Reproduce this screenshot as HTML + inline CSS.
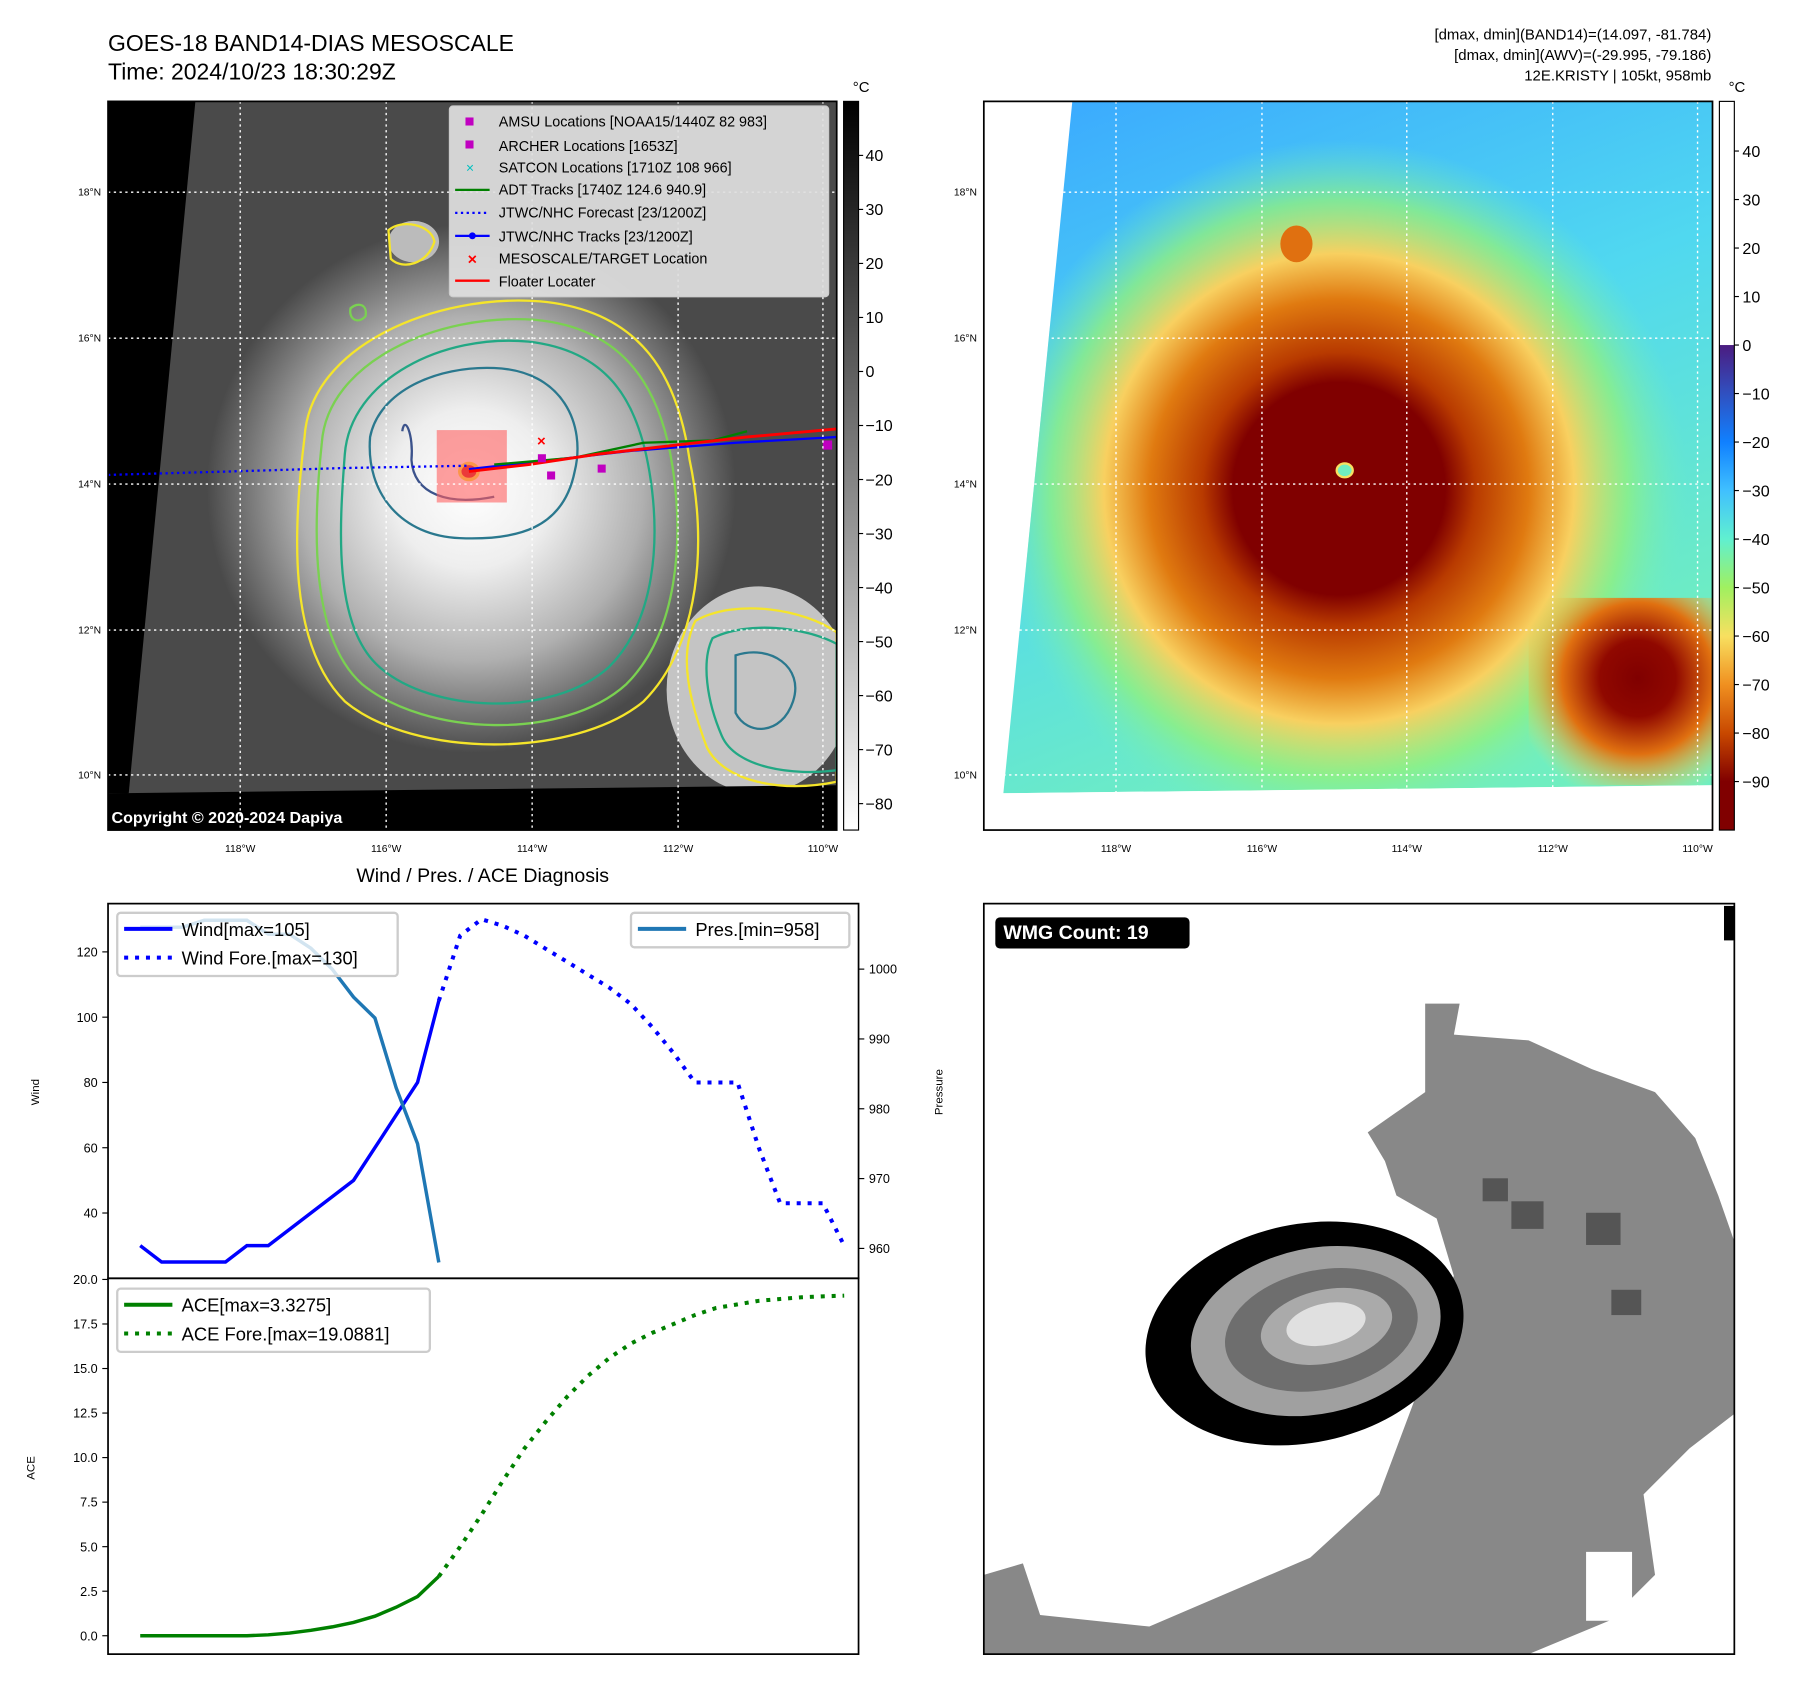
<!DOCTYPE html>
<html><head><meta charset="utf-8"><style>
html,body{margin:0;padding:0;background:#fff}
svg{display:block;font-family:"Liberation Sans","DejaVu Sans",sans-serif}
</style></head><body>
<svg id="fig" width="1801" height="1690" viewBox="0 0 1567 1470" xmlns="http://www.w3.org/2000/svg">
<defs>
<radialGradient id="cloudL" cx="410" cy="425" r="230" gradientUnits="userSpaceOnUse">
<stop offset="0" stop-color="#ffffff"/><stop offset="0.3" stop-color="#eeeeee"/><stop offset="0.65" stop-color="#b0b0b0"/><stop offset="1" stop-color="#4a4a4a"/></radialGradient>
<linearGradient id="bgR" x1="0" y1="0" x2="0.4" y2="1"><stop offset="0" stop-color="#3aa8ff"/><stop offset="0.5" stop-color="#50d8f0"/><stop offset="1" stop-color="#70eec0"/></linearGradient>
<radialGradient id="stormR" cx="1165" cy="425" r="330" gradientUnits="userSpaceOnUse">
<stop offset="0" stop-color="#800000"/><stop offset="0.28" stop-color="#800000"/><stop offset="0.36" stop-color="#b83a00"/><stop offset="0.5" stop-color="#e07a10"/><stop offset="0.62" stop-color="#f8d060"/><stop offset="0.76" stop-color="#90f080" stop-opacity="0.8"/><stop offset="0.92" stop-color="#70eec0" stop-opacity="0"/></radialGradient>
<radialGradient id="stormR2" cx="1425" cy="590" r="110" gradientUnits="userSpaceOnUse">
<stop offset="0" stop-color="#800000"/><stop offset="0.3" stop-color="#900800"/><stop offset="0.6" stop-color="#e07010"/><stop offset="1" stop-color="#f0e060" stop-opacity="0"/></radialGradient>
<linearGradient id="cbL" x1="0" y1="0" x2="0" y2="1"><stop offset="0" stop-color="#000"/><stop offset="1" stop-color="#fff"/></linearGradient>
<linearGradient id="cbR" x1="0" y1="0" x2="0" y2="1">
<stop offset="0" stop-color="#4b1c80"/><stop offset="0.1" stop-color="#3050c0"/><stop offset="0.2" stop-color="#1080ff"/><stop offset="0.3" stop-color="#40c0ff"/><stop offset="0.4" stop-color="#60f0d0"/><stop offset="0.5" stop-color="#a0f060"/><stop offset="0.6" stop-color="#f8e060"/><stop offset="0.7" stop-color="#f09020"/><stop offset="0.8" stop-color="#c84800"/><stop offset="0.9" stop-color="#800000"/><stop offset="1" stop-color="#800000"/></linearGradient>
<clipPath id="clipL"><rect x="94" y="88" width="634" height="634"/></clipPath>
<clipPath id="clipR"><rect x="856" y="88" width="634" height="634"/></clipPath>
<clipPath id="clipW"><rect x="856" y="786" width="653" height="653"/></clipPath>
</defs>

<text x="94" y="44" font-size="20">GOES-18 BAND14-DIAS MESOSCALE</text>
<text x="94" y="69" font-size="20">Time: 2024/10/23 18:30:29Z</text>
<g font-size="13" text-anchor="end">
<text x="1489" y="34">[dmax, dmin](BAND14)=(14.097, -81.784)</text>
<text x="1489" y="52">[dmax, dmin](AWV)=(-29.995, -79.186)</text>
<text x="1489" y="70">12E.KRISTY | 105kt, 958mb</text>
</g>

<g clip-path="url(#clipL)">
<rect x="94" y="88" width="634" height="634" fill="#3c3c3c"/>
<rect x="94" y="88" width="634" height="634" fill="url(#cloudL)"/>
<ellipse cx="660" cy="600" rx="80" ry="90" fill="#c4c4c4"/>
<ellipse cx="360" cy="210" rx="22" ry="18" fill="#bbb"/>
<polygon points="94,88 170,88 112,690 94,690" fill="#000"/>
<polygon points="94,690 728,683 728,722 94,722" fill="#000"/>
<g fill="none" stroke-width="2">
<path d="M265,380 C270,300 380,255 470,262 C560,270 590,330 600,400 C615,470 610,560 560,610 C500,660 360,660 300,610 C250,560 255,460 265,380Z" stroke="#f5e52a"/>
<path d="M280,385 C285,315 380,272 465,278 C545,285 575,340 585,405 C595,470 590,550 545,595 C490,645 370,640 315,595 C270,555 272,460 280,385Z" stroke="#7ad151"/>
<path d="M300,395 C305,330 385,290 460,297 C530,305 555,350 565,410 C575,470 570,540 530,580 C480,625 375,620 330,580 C290,545 295,460 300,395Z" stroke="#22a884"/>
<path d="M322,380 C330,340 380,318 430,320 C490,322 510,370 500,410 C490,460 450,470 400,468 C350,466 318,430 322,380Z" stroke="#2a788e"/>
<path d="M350,375 C352,360 360,378 358,400 C360,430 390,440 430,432" stroke="#3b528b"/>
<path d="M605,540 C640,520 700,530 728,550 L728,680 C680,690 630,680 615,650 C600,610 590,570 605,540Z" stroke="#f5e52a"/>
<path d="M620,555 C650,540 700,545 728,560 L728,670 C690,675 640,668 628,640 C615,610 610,575 620,555Z" stroke="#22a884"/>
<path d="M640,570 C670,560 700,580 690,610 C680,640 650,640 640,620Z" stroke="#2a788e"/>
<path d="M338,200 C350,190 375,195 378,210 C372,230 350,235 340,225Z" stroke="#f5e52a"/>
<path d="M305,268 C312,262 320,265 318,275 C312,282 303,278 305,268Z" stroke="#7ad151"/>
</g>
<ellipse cx="408" cy="410" rx="8" ry="7" fill="#c00" stroke="#f5e52a" stroke-width="3"/>
<rect x="380" y="374" width="61" height="63" fill="#ff6060" fill-opacity="0.6"/>
<polyline points="94,413 200,410 300,407 408,405" fill="none" stroke="#0000ff" stroke-width="2" stroke-dasharray="2,3"/>
<polyline points="408,408 480,400 550,392 640,385 728,380" fill="none" stroke="#0000ff" stroke-width="2"/>
<polyline points="430,404 500,398 560,385 620,383 650,375" fill="none" stroke="#008000" stroke-width="2"/>
<polyline points="408,410 460,404 520,395 580,388 650,380 728,373" fill="none" stroke="#ff0000" stroke-width="2.5"/>
<g fill="#c000c0"><rect x="468" y="395" width="7" height="7"/><rect x="476" y="410" width="7" height="7"/><rect x="520" y="404" width="7" height="7"/><rect x="716" y="383" width="8" height="8"/></g>
<text x="471" y="388" font-size="13" fill="#f00" text-anchor="middle" font-weight="bold">×</text>
<g stroke="#fff" stroke-width="1.2" stroke-dasharray="2,3">
<line x1="209" y1="88" x2="209" y2="722"/><line x1="336" y1="88" x2="336" y2="722"/><line x1="463" y1="88" x2="463" y2="722"/><line x1="590" y1="88" x2="590" y2="722"/><line x1="716" y1="88" x2="716" y2="722"/>
<line x1="94" y1="167" x2="728" y2="167"/><line x1="94" y1="294" x2="728" y2="294"/><line x1="94" y1="421" x2="728" y2="421"/><line x1="94" y1="548" x2="728" y2="548"/><line x1="94" y1="674" x2="728" y2="674"/>
</g>
<text x="97" y="716" font-size="14" fill="#fff" font-weight="bold">Copyright © 2020-2024 Dapiya</text>
</g>
<rect x="94" y="88" width="634" height="634" fill="none" stroke="#000" stroke-width="1.5"/>
<g font-size="12.5">
<rect x="391" y="92" width="330" height="166" rx="3" fill="#e0e0e0" fill-opacity="0.92" stroke="#ccc"/>
<rect x="405" y="102" width="7" height="7" fill="#c000c0"/><text x="434" y="110">AMSU Locations [NOAA15/1440Z 82 983]</text>
<rect x="405" y="122" width="7" height="7" fill="#c000c0"/><text x="434" y="131">ARCHER Locations [1653Z]</text>
<text x="409" y="150" fill="#00c0c0" text-anchor="middle" font-size="12">×</text><text x="434" y="150">SATCON Locations [1710Z 108 966]</text>
<line x1="396" y1="165" x2="426" y2="165" stroke="#008000" stroke-width="2"/><text x="434" y="169">ADT Tracks [1740Z 124.6 940.9]</text>
<line x1="396" y1="185" x2="426" y2="185" stroke="#0000ff" stroke-width="2" stroke-dasharray="2,3"/><text x="434" y="189">JTWC/NHC Forecast [23/1200Z]</text>
<line x1="396" y1="205" x2="426" y2="205" stroke="#0000ff" stroke-width="2"/><circle cx="411" cy="205" r="3" fill="#0000ff"/><text x="434" y="210">JTWC/NHC Tracks [23/1200Z]</text>
<text x="411" y="230" fill="#f00" text-anchor="middle" font-weight="bold" font-size="14">×</text><text x="434" y="229">MESOSCALE/TARGET Location</text>
<line x1="396" y1="244" x2="426" y2="244" stroke="#f00" stroke-width="2"/><text x="434" y="249">Floater Locater</text>
</g>
<g font-size="9">
<g text-anchor="middle"><text x="209" y="741">118°W</text><text x="336" y="741">116°W</text><text x="463" y="741">114°W</text><text x="590" y="741">112°W</text><text x="716" y="741">110°W</text></g>
<g text-anchor="end"><text x="88" y="170">18°N</text><text x="88" y="297">16°N</text><text x="88" y="424">14°N</text><text x="88" y="551">12°N</text><text x="88" y="677">10°N</text></g>
</g>
<g>
<rect x="734" y="88" width="13" height="634" fill="url(#cbL)" stroke="#000" stroke-width="1"/>
<text x="742" y="80" font-size="13">°C</text>
<g font-size="14" id="cbLticks"></g>
</g>

<g clip-path="url(#clipR)">
<rect x="856" y="88" width="634" height="634" fill="#fff"/>
<polygon points="933,88 1490,88 1490,683 873,690" fill="url(#bgR)"/>
<polygon points="933,88 1490,88 1490,683 873,690" fill="url(#stormR)"/>
<polygon points="1330,520 1490,520 1490,683 1330,683" fill="url(#stormR2)"/>
<ellipse cx="1128" cy="212" rx="14" ry="16" fill="#e07010"/>
<ellipse cx="1170" cy="409" rx="7" ry="6" fill="#70eec0" stroke="#f8e060" stroke-width="2"/>
<polygon points="873,690 1490,683 1490,722 856,722 856,690" fill="#fff"/>
<g stroke="#fff" stroke-width="1.2" stroke-dasharray="2,3">
<line x1="971" y1="88" x2="971" y2="690"/><line x1="1098" y1="88" x2="1098" y2="690"/><line x1="1224" y1="88" x2="1224" y2="690"/><line x1="1351" y1="88" x2="1351" y2="690"/><line x1="1477" y1="88" x2="1477" y2="690"/>
<line x1="920" y1="167" x2="1490" y2="167"/><line x1="910" y1="294" x2="1490" y2="294"/><line x1="895" y1="421" x2="1490" y2="421"/><line x1="882" y1="548" x2="1490" y2="548"/><line x1="873" y1="674" x2="1490" y2="674"/>
</g>
</g>
<rect x="856" y="88" width="634" height="634" fill="none" stroke="#000" stroke-width="1.5"/>
<g font-size="9">
<g text-anchor="middle"><text x="971" y="741">118°W</text><text x="1098" y="741">116°W</text><text x="1224" y="741">114°W</text><text x="1351" y="741">112°W</text><text x="1477" y="741">110°W</text></g>
<g text-anchor="end"><text x="850" y="170">18°N</text><text x="850" y="297">16°N</text><text x="850" y="424">14°N</text><text x="850" y="551">12°N</text><text x="850" y="677">10°N</text></g>
</g>
<g>
<rect x="1496" y="88" width="13" height="212" fill="#fff"/>
<rect x="1496" y="300" width="13" height="422" fill="url(#cbR)"/>
<rect x="1496" y="88" width="13" height="634" fill="none" stroke="#000" stroke-width="1"/>
<text x="1504" y="80" font-size="13">°C</text>
<g font-size="14" id="cbRticks"></g>
</g>

<text x="420" y="767" font-size="17" text-anchor="middle">Wind / Pres. / ACE Diagnosis</text>
<g id="chart"></g>

<g clip-path="url(#clipW)">
<rect x="856" y="786" width="653" height="653" fill="#fff"/>
<polygon fill="#888" points="1240,873 1270,873 1265,900 1330,905 1385,930 1440,950 1475,990 1495,1040 1509,1080 1509,1230 1470,1260 1430,1300 1440,1370 1400,1410 1330,1439 856,1439 856,1370 890,1360 905,1405 1000,1415 1140,1355 1200,1300 1230,1220 1245,1150 1265,1110 1250,1060 1215,1040 1205,1010 1190,985 1240,950"/>
<polygon fill="#fff" points="1380,1350 1420,1350 1420,1410 1380,1410"/>
<g fill="#555"><rect x="1315" y="1045" width="28" height="24"/><rect x="1380" y="1055" width="30" height="28"/><rect x="1290" y="1025" width="22" height="20"/><rect x="1402" y="1122" width="26" height="22"/></g>
<g transform="rotate(-12 1135 1160)">
<ellipse cx="1135" cy="1160" rx="140" ry="95" fill="#000"/>
<ellipse cx="1145" cy="1160" rx="110" ry="72" fill="#a0a0a0"/>
<ellipse cx="1150" cy="1160" rx="85" ry="52" fill="#6e6e6e"/>
<ellipse cx="1155" cy="1158" rx="58" ry="32" fill="#aaa"/>
<ellipse cx="1155" cy="1156" rx="35" ry="18" fill="#e0e0e0"/>
</g>
<rect x="1500" y="788" width="9" height="30" fill="#000"/>
</g>
<rect x="856" y="786" width="653" height="653" fill="none" stroke="#000" stroke-width="1.5"/>
<rect x="866" y="798" width="169" height="27" rx="4" fill="#000"/>
<text x="873" y="817" font-size="17" font-weight="bold" fill="#fff">WMG Count: 19</text>
</svg>
<script>
const windObs = [30,25,25,25,25,30,30,35,40,45,50,60,70,80,105];
const windFore = [105,125,130,128,125,121,117,113,109,104,97,89,80,80,80,60,43,43,43,30];
const presObs = [1006,1006,1006,1007,1007,1007,1005,1005,1003,1000,996,993,983,975,958];
const aceObs = [0,0,0,0,0,0,0.05,0.15,0.3,0.5,0.75,1.1,1.6,2.2,3.33];
const aceFore = [3.33,5.0,6.8,8.7,10.5,12.0,13.4,14.6,15.6,16.4,17.0,17.5,18.0,18.4,18.6,18.8,18.9,19.0,19.05,19.09];
const windTicks = [40,60,80,100,120];
const presTicks = [960,970,980,990,1000];
const aceTicks = [0,2.5,5,7.5,10,12.5,15,17.5,20];
const cbLTicks = [40,30,20,10,0,-10,-20,-30,-40,-50,-60,-70,-80];
const cbRTicks = [40,30,20,10,0,-10,-20,-30,-40,-50,-60,-70,-80,-90];

const NS='http://www.w3.org/2000/svg';
function mk(tag, attrs, parent, txt){const e=document.createElementNS(NS,tag);for(const k in attrs)e.setAttribute(k,attrs[k]);if(txt!==undefined)e.textContent=txt;parent.appendChild(e);return e;}
const chart=document.getElementById('chart');
const X0=94,X1=747,T0=786,T1=1112,B1=1439;
const xi=i=>122+i*18.56;
const yW=v=>1112-(v-20)*2.84;
const yP=v=>1086-(v-960)*6.075;
const yA=v=>1423-v*15.5;

function line(pts, color, width, dash, name){
  const p=mk('polyline',{points:pts.map(q=>q[0].toFixed(1)+','+q[1].toFixed(1)).join(' '),fill:'none',stroke:color,'stroke-width':width},chart);
  if(dash) p.setAttribute('stroke-dasharray',dash);
  
  
}
mk('rect',{x:X0,y:T0,width:X1-X0,height:B1-T0,fill:'#fff'},chart);
line(windObs.map((v,i)=>[xi(i),yW(v)]),'#0000ff',3,null,'wind-line');
line(windFore.map((v,i)=>[xi(i+14),yW(v)]),'#0000ff',3.5,'3.5,6','wind-forecast-line');
line(presObs.map((v,i)=>[xi(i),yP(v)]),'#1f77b4',3,null,'pressure-line');
line(aceObs.map((v,i)=>[xi(i),yA(v)]),'#008000',3,null,'ace-line');
line(aceFore.map((v,i)=>[xi(i+14),yA(v)]),'#008000',3.5,'3.5,6','ace-forecast-line');
mk('rect',{x:X0,y:T0,width:X1-X0,height:T1-T0,fill:'none',stroke:'#000','stroke-width':1.5},chart);
mk('rect',{x:X0,y:T1,width:X1-X0,height:B1-T1,fill:'none',stroke:'#000','stroke-width':1.5},chart);
windTicks.forEach(v=>{const y=yW(v);mk('line',{x1:X0-5,x2:X0,y1:y,y2:y,stroke:'#000'},chart);
  const t=mk('text',{x:X0-9,y:y+4,'font-size':11,'text-anchor':'end'},chart,String(v));
  
  });
presTicks.forEach(v=>{const y=yP(v);mk('line',{x1:X1,x2:X1+5,y1:y,y2:y,stroke:'#000'},chart);
  const t=mk('text',{x:X1+9,y:y+4,'font-size':11},chart,String(v));
  
  });
aceTicks.forEach(v=>{const y=yA(v);mk('line',{x1:X0-5,x2:X0,y1:y,y2:y,stroke:'#000'},chart);
  const t=mk('text',{x:X0-9,y:y+4,'font-size':11,'text-anchor':'end'},chart,v.toFixed(1));
  
  });
mk('text',{x:34,y:950,'font-size':10,'text-anchor':'middle',transform:'rotate(-90 34 950)'},chart,'Wind');
mk('text',{x:820,y:950,'font-size':10,'text-anchor':'middle',transform:'rotate(-90 820 950)'},chart,'Pressure');
mk('text',{x:30,y:1277,'font-size':10,'text-anchor':'middle',transform:'rotate(-90 30 1277)'},chart,'ACE');
function legend(x,y,w,h,items,name){
  const g=mk('g',{},chart);
  
  
  mk('rect',{x:x,y:y,width:w,height:h,rx:3,fill:'#fff','fill-opacity':0.8,stroke:'#ccc','stroke-width':2},g);
  items.forEach((it,k)=>{const yy=y+14+k*25;
    const l=mk('line',{x1:x+6,x2:x+48,y1:yy,y2:yy,stroke:it[1],'stroke-width':3.5},g);
    if(it[2]) l.setAttribute('stroke-dasharray','3.5,6');
    mk('text',{x:x+56,y:yy+6,'font-size':16},g,it[0]);});
}
legend(102,794,244,55,[['Wind[max=105]','#0000ff',0],['Wind Fore.[max=130]','#0000ff',1]],'wind-legend');
legend(549,794,190,30,[['Pres.[min=958]','#1f77b4',0]],'pressure-legend');
legend(102,1121,272,55,[['ACE[max=3.3275]','#008000',0],['ACE Fore.[max=19.0881]','#008000',1]],'ace-legend');
const gl=document.getElementById('cbLticks');
cbLTicks.forEach(v=>{const y=323-v*4.7;mk('line',{x1:747,x2:751,y1:y,y2:y,stroke:'#000'},gl);mk('text',{x:753,y:y+5},gl,v<0?'\u2212'+(-v):String(v));});
const gr=document.getElementById('cbRticks');
cbRTicks.forEach(v=>{const y=300-v*4.22;mk('line',{x1:1509,x2:1513,y1:y,y2:y,stroke:'#000'},gr);mk('text',{x:1516,y:y+5},gr,v<0?'\u2212'+(-v):String(v));});
</script>
</body></html>
